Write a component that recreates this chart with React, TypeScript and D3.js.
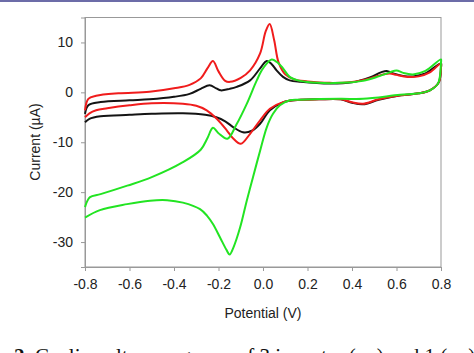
import { useEffect, useRef } from "react";
import * as d3 from "d3";

// potential (V), current (uA) — forward scan then reverse scan
const blackForward: [number, number][] = [
  [-0.8, -4.3], [-0.785, -2.6], [-0.73, -1.95], [-0.6, -1.6], [-0.51, -1.4],
  [-0.4, -0.9], [-0.33, -0.3], [-0.28, 0.7], [-0.24, 1.4], [-0.21, 0.8],
  [-0.19, 0.4], [-0.15, 0.7], [-0.118, 1.1], [-0.058, 2.4], [-0.013, 4.8],
  [0.017, 6.3], [0.04, 5.6], [0.061, 4.4], [0.09, 3.1], [0.12, 2.4],
  [0.17, 2.1], [0.3, 1.75], [0.4, 2.0], [0.48, 3.0], [0.53, 4.0],
  [0.556, 4.3], [0.585, 3.8], [0.63, 3.3], [0.674, 3.2], [0.73, 3.8], [0.8, 5.8],
];
const blackReverse: [number, number][] = [
  [0.8, 5.0], [0.79, 2.0], [0.75, 0.4], [0.7, -0.2], [0.62, -0.6], [0.52, -1.5],
  [0.45, -2.4], [0.4, -2.1], [0.35, -1.4], [0.25, -1.4], [0.17, -1.5],
  [0.12, -1.7], [0.09, -2.0], [0.031, -3.6], [-0.013, -6.3], [-0.05, -7.7],
  [-0.09, -8.0], [-0.133, -7.0], [-0.17, -5.8], [-0.21, -5.0], [-0.26, -4.5],
  [-0.36, -4.2], [-0.5, -4.3], [-0.6, -4.5], [-0.73, -4.8], [-0.78, -5.3], [-0.8, -6.0],
];

const redForward: [number, number][] = [
  [-0.8, -3.6], [-0.785, -1.3], [-0.75, -0.7], [-0.65, -0.2], [-0.51, 0.1],
  [-0.4, 0.8], [-0.33, 1.5], [-0.28, 2.8], [-0.25, 4.8], [-0.225, 6.3],
  [-0.2, 4.2], [-0.17, 2.3], [-0.148, 2.1], [-0.1, 2.9], [-0.058, 4.4],
  [-0.013, 7.8], [0.012, 12.2], [0.03, 13.7], [0.05, 10.5], [0.07, 6.0],
  [0.1, 3.6], [0.14, 2.6], [0.2, 2.2], [0.3, 1.9], [0.4, 2.1], [0.48, 2.8],
  [0.54, 3.6], [0.57, 3.8], [0.6, 3.5], [0.65, 3.1], [0.7, 3.2], [0.75, 4.0], [0.8, 5.8],
];
const redReverse: [number, number][] = [
  [0.8, 5.0], [0.79, 2.0], [0.75, 0.4], [0.7, -0.2], [0.62, -0.6], [0.52, -1.4],
  [0.45, -2.3], [0.4, -2.0], [0.35, -1.4], [0.25, -1.4], [0.17, -1.5],
  [0.09, -1.95], [0.031, -3.3], [-0.013, -5.6], [-0.058, -8.3], [-0.1, -10.3],
  [-0.135, -9.2], [-0.163, -7.6], [-0.208, -5.3], [-0.253, -3.6], [-0.3, -2.7],
  [-0.36, -2.3], [-0.5, -2.2], [-0.6, -2.6], [-0.7, -3.2], [-0.75, -3.6],
  [-0.78, -4.2], [-0.8, -5.0],
];

const greenForward: [number, number][] = [
  [-0.8, -23.0], [-0.79, -21.8], [-0.7775, -21.0], [-0.73, -20.4], [-0.61, -18.7],
  [-0.5, -17.0], [-0.36, -14.0], [-0.28, -11.5], [-0.25, -9.2], [-0.225, -7.1],
  [-0.2, -8.2], [-0.16, -9.3], [-0.12, -6.5], [-0.073, -2.3], [-0.028, 2.4],
  [0.0, 4.8], [0.039, 6.6], [0.07, 5.8], [0.09, 4.8], [0.12, 3.1],
  [0.166, 2.3], [0.25, 1.9], [0.35, 1.9], [0.45, 2.3], [0.52, 3.2], [0.57, 4.0],
  [0.6, 4.4], [0.63, 3.9], [0.674, 3.6], [0.73, 4.3], [0.8, 6.6],
];
const greenReverse: [number, number][] = [
  [0.8, 6.0], [0.787, 1.8], [0.75, 0.4], [0.7, -0.2], [0.616, -0.5], [0.45, -1.3],
  [0.346, -1.3], [0.166, -1.5], [0.121, -1.6], [0.076, -2.6], [0.045, -4.3],
  [0.017, -7.0], [-0.013, -11.7], [-0.045, -17.0], [-0.073, -21.7], [-0.103, -27.1],
  [-0.133, -31.1], [-0.15, -32.5], [-0.165, -31.5], [-0.193, -29.1], [-0.225, -26.4],
  [-0.252, -24.7], [-0.283, -23.4], [-0.36, -22.1], [-0.431, -21.6], [-0.508, -21.7],
  [-0.611, -22.4], [-0.733, -23.6], [-0.8, -25.1],
];

const xTicks = [-0.8, -0.6, -0.4, -0.2, 0.0, 0.2, 0.4, 0.6, 0.8];
const yTicks = [10, 0, -10, -20, -30];

export default function App() {
  const ref = useRef<SVGSVGElement>(null);

  useEffect(() => {
    const width = 474;
    const svg = d3.select(ref.current);
    svg.selectAll("*").remove();

    const x = d3.scaleLinear().domain([-0.8, 0.8]).range([85, 441]);
    const y = d3.scaleLinear().domain([-35, 15]).range([267, 17.5]);

    // header strip
    svg.append("rect").attr("x", 0).attr("y", 0).attr("width", width).attr("height", 2).attr("fill", "#6c6ca8");

    // frame
    svg
      .append("rect")
      .attr("x", 85)
      .attr("y", 17.5)
      .attr("width", 356)
      .attr("height", 249.5)
      .attr("fill", "none")
      .attr("stroke", "#999")
      .attr("stroke-width", 1);

    const font = "Arial, 'Liberation Sans', sans-serif";
    // plain hyphen for negatives, like the original
    const fmtX = (d: number) => d.toFixed(1).replace("\u2212", "-");
    const fmtY = (d: number) => String(d);

    const xAxis = svg
      .append("g")
      .attr("transform", "translate(0,267)")
      .call(d3.axisBottom(x).tickValues(xTicks).tickSize(4).tickPadding(8).tickFormat(fmtX as any));
    const yAxis = svg
      .append("g")
      .attr("transform", "translate(85,0)")
      .call(d3.axisLeft(y).tickValues(yTicks).tickSize(4).tickPadding(8).tickFormat(fmtY as any));

    [xAxis, yAxis].forEach((g) => {
      g.select(".domain").attr("stroke", "#999");
      g.selectAll(".tick line").attr("stroke", "#999");
      g.selectAll("text").style("font-family", font).style("font-size", "14px").attr("fill", "#222");
    });

    // axis titles
    svg
      .append("text")
      .attr("x", 263)
      .attr("y", 318)
      .attr("text-anchor", "middle")
      .style("font-family", font)
      .style("font-size", "14px")
      .attr("fill", "#222")
      .text("Potential (V)");

    svg
      .append("text")
      .attr("transform", "translate(40,142) rotate(-90)")
      .attr("text-anchor", "middle")
      .style("font-family", font)
      .style("font-size", "14px")
      .attr("fill", "#222")
      .text("Current (µA)");

    // curves
    const line = d3
      .line<[number, number]>()
      .x((d) => x(d[0]))
      .y((d) => y(d[1]))
      .curve(d3.curveCatmullRom.alpha(0.5));

    const curves = [
      { data: blackForward.concat(blackReverse), color: "#141414" },
      { data: redForward.concat(redReverse), color: "#f01c1c" },
      { data: greenForward.concat(greenReverse), color: "#22e422" },
    ];

    curves.forEach((c) => {
      svg
        .append("path")
        .datum(c.data)
        .attr("fill", "none")
        .attr("stroke", c.color)
        .attr("stroke-width", 2)
        .attr("stroke-linejoin", "round")
        .attr("d", line);
    });

    // caption (cut off by the bottom edge, as in the source)
    const cap = svg
      .append("text")
      .attr("x", 14)
      .attr("y", 363)
      .style("font-family", "'Liberation Serif', 'Times New Roman', serif")
      .style("font-size", "21px")
      .attr("fill", "#111");
    cap.append("tspan").style("font-weight", "bold").text("2. ");
    cap.append("tspan").text("Cyclic voltammograms of 3 in water (—) and 1 (—) at pH 7");
  }, []);

  return (
    <svg
      ref={ref}
      width={474}
      height={353}
      style={{ position: "absolute", left: 0, top: 0, background: "#fff" }}
    />
  );
}
